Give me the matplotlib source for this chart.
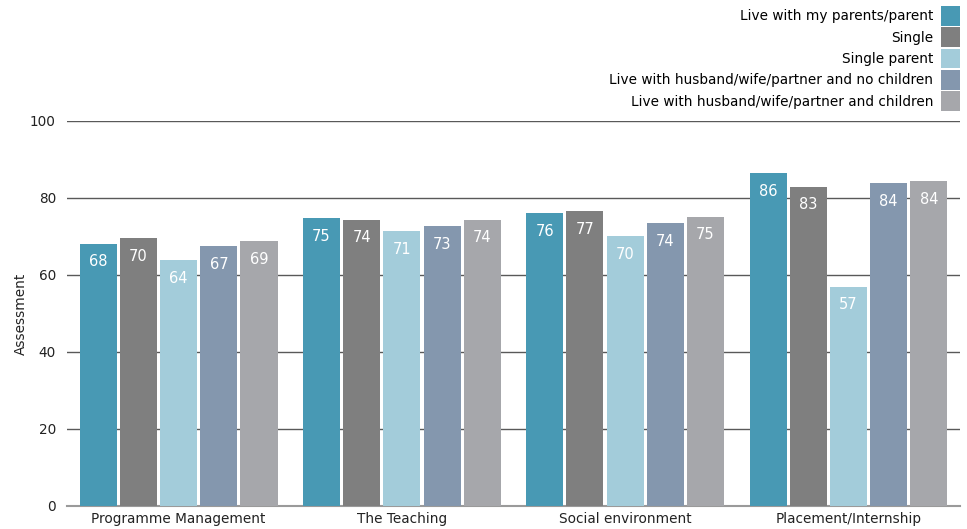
import numpy as np
import matplotlib.pyplot as plt
from matplotlib.patches import Patch

# Данні
categories = ["Programme Management", "The Teaching", "Social environment", "Placement/Internship"]
series = [
    "Live with my parents/parent",
    "Single",
    "Single parent",
    "Live with husband/wife/partner and no children",
    "Live with husband/wife/partner and children",
]
values = [
    [68.1, 74.8, 76.1, 86.5],
    [69.6, 74.3, 76.6, 82.9],
    [63.9, 71.4, 70.1, 56.9],
    [67.5, 72.7, 73.5, 83.9],
    [68.8, 74.3, 75.1, 84.4],
]
labels = [
    [68, 75, 76, 86],
    [70, 74, 77, 83],
    [64, 71, 70, 57],
    [67, 73, 74, 84],
    [69, 74, 75, 84],
]
colors = ["#4899B4", "#7F7F7F", "#A3CCDA", "#8497AE", "#A6A7AB"]

plt.rcParams["font.family"] = ["DejaVu Sans"]
fs = 9.8

fig = plt.figure(figsize=(9.67, 5.29), dpi=100)
ax = fig.add_axes([0.0693, 0.0435, 0.9235, 0.7278])

x = np.arange(len(categories))
step = 0.18
width = 0.166
for i, (s, vals, labs, c) in enumerate(zip(series, values, labels, colors)):
    pos = x + (i - 2) * step
    bars = ax.bar(pos, vals, width, color=c, zorder=3, label=s)
    for b, lab in zip(bars, labs):
        ax.annotate(str(lab), (b.get_x() + b.get_width() / 2, b.get_height()),
                    xytext=(0, -13), textcoords="offset points",
                    ha="center", va="center", color="white", fontsize=10.5, zorder=4)

ax.set_xlim(-0.5, 3.5)
ax.set_ylim(0, 100)
ax.set_yticks([0, 20, 40, 60, 80, 100])
ax.set_xticks(x)
ax.set_xticklabels(categories, fontsize=fs, color="#222222")
ax.tick_params(axis="y", labelsize=fs, length=0, pad=8, colors="#222222")
ax.tick_params(axis="x", length=0, pad=4)
ax.yaxis.grid(True, color="#595959", linewidth=1)
ax.set_axisbelow(True)
for side in ["top", "right", "left"]:
    ax.spines[side].set_visible(False)
ax.spines["bottom"].set_color("#9a9a9a")
ax.spines["bottom"].set_linewidth(1.5)
ax.set_ylabel("Assessment", fontsize=fs, color="#222222")
ax.yaxis.set_label_coords(-0.044, 0.5)

handles = [Patch(facecolor=c, edgecolor="none") for c in colors]
fig.legend(handles, series, loc="upper right", bbox_to_anchor=(960 / 967, 1 - 6 / 529),
           frameon=False, markerfirst=False, fontsize=fs,
           handlelength=1.4, handleheight=1.85, labelspacing=0.12,
           handletextpad=0.55, borderaxespad=0, borderpad=0)

fig.savefig("out.png", dpi=100)
